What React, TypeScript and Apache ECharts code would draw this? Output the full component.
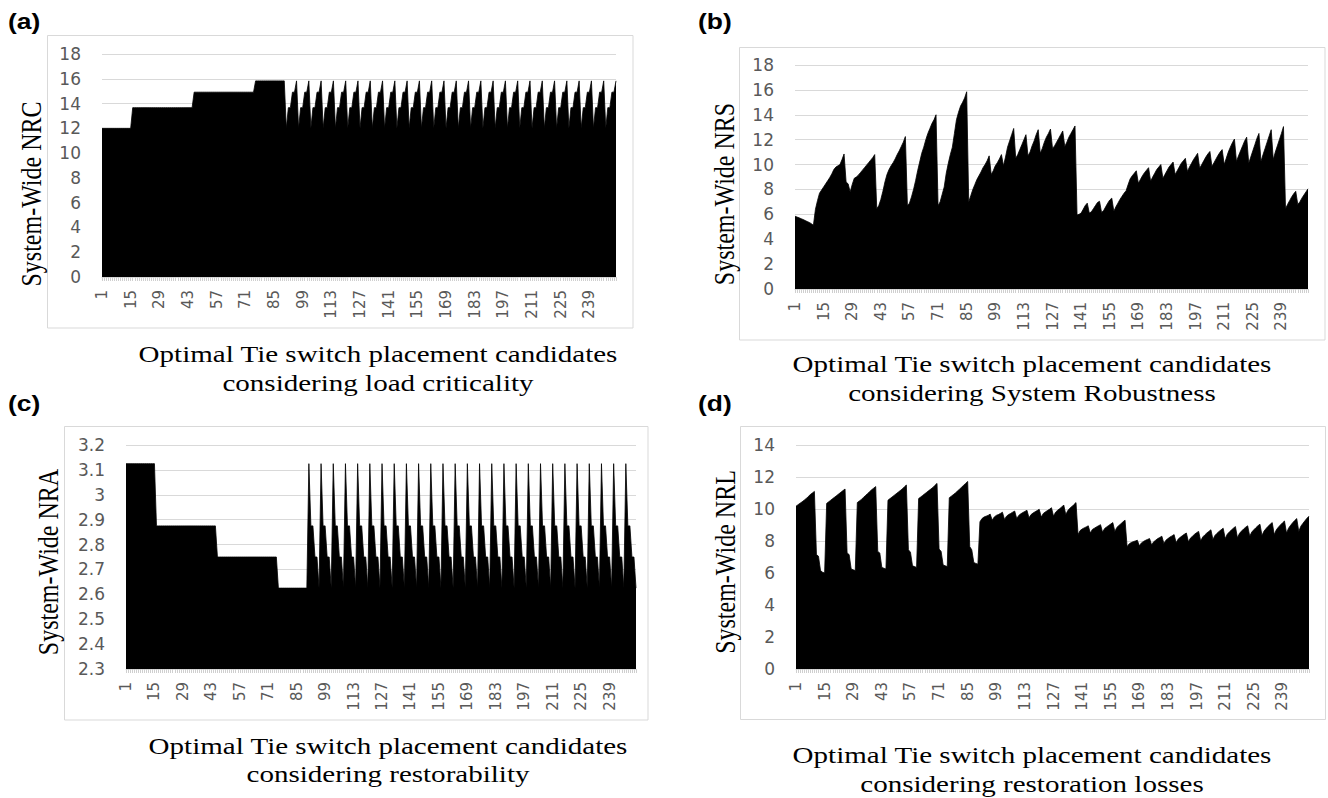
import { useEffect, useRef } from "react";
import * as echarts from "echarts";

// (a) System-Wide NRC
const NRC = [
  12, 12, 12, 12, 12, 12, 12, 12, 12, 12, 12, 12, 12, 12, 12,
  13.67, 13.67, 13.67, 13.67, 13.67, 13.67, 13.67, 13.67, 13.67, 13.67, 13.67, 13.67, 13.67, 13.67, 13.67,
  13.67, 13.67, 13.67, 13.67, 13.67, 13.67, 13.67, 13.67, 13.67, 13.67, 13.67, 13.67, 13.67, 13.67, 13.67,
  14.92, 14.92, 14.92, 14.92, 14.92, 14.92, 14.92, 14.92, 14.92, 14.92, 14.92, 14.92, 14.92, 14.92, 14.92,
  14.92, 14.92, 14.92, 14.92, 14.92, 14.92, 14.92, 14.92, 14.92, 14.92, 14.92, 14.92, 14.92, 14.92, 14.92,
  15.83, 15.83, 15.83, 15.83, 15.83, 15.83, 15.83, 15.83, 15.83, 15.83, 15.83, 15.83, 15.83, 15.83, 15.83,
  12, 13.67, 13.67, 14.92, 14.92, 15.83,
  12, 13.67, 13.67, 14.92, 14.92, 15.83,
  12, 13.67, 13.67, 14.92, 14.92, 15.83,
  12, 13.67, 13.67, 14.92, 14.92, 15.83,
  12, 13.67, 13.67, 14.92, 14.92, 15.83,
  12, 13.67, 13.67, 14.92, 14.92, 15.83,
  12, 13.67, 13.67, 14.92, 14.92, 15.83,
  12, 13.67, 13.67, 14.92, 14.92, 15.83,
  12, 13.67, 13.67, 14.92, 14.92, 15.83,
  12, 13.67, 13.67, 14.92, 14.92, 15.83,
  12, 13.67, 13.67, 14.92, 14.92, 15.83,
  12, 13.67, 13.67, 14.92, 14.92, 15.83,
  12, 13.67, 13.67, 14.92, 14.92, 15.83,
  12, 13.67, 13.67, 14.92, 14.92, 15.83,
  12, 13.67, 13.67, 14.92, 14.92, 15.83,
  12, 13.67, 13.67, 14.92, 14.92, 15.83,
  12, 13.67, 13.67, 14.92, 14.92, 15.83,
  12, 13.67, 13.67, 14.92, 14.92, 15.83,
  12, 13.67, 13.67, 14.92, 14.92, 15.83,
  12, 13.67, 13.67, 14.92, 14.92, 15.83,
  12, 13.67, 13.67, 14.92, 14.92, 15.83,
  12, 13.67, 13.67, 14.92, 14.92, 15.83,
  12, 13.67, 13.67, 14.92, 14.92, 15.83,
  12, 13.67, 13.67, 14.92, 14.92, 15.83,
  12, 13.67, 13.67, 14.92, 14.92, 15.83,
  12, 13.67, 13.67, 14.92, 14.92, 15.83,
  12, 13.67, 13.67, 14.92, 14.92, 15.83,
];

// (b) System-Wide NRS
const NRS = [
  5.85, 5.78, 5.72, 5.65, 5.58, 5.5, 5.42, 5.35, 5.25, 5.12,
  6.4, 7.1, 7.7, 7.95, 8.2,
  8.45, 8.7, 8.95, 9.25, 9.6, 9.8, 9.9, 10.0, 10.4, 10.85,
  8.6, 8.45, 7.8, 8.4, 8.9,
  9.0, 9.15, 9.35, 9.55, 9.75, 9.95, 10.15, 10.35, 10.55, 10.8,
  6.45, 6.7, 7.2, 7.85, 8.6,
  9.2, 9.6, 9.9, 10.15, 10.45, 10.8, 11.1, 11.45, 11.8, 12.25,
  6.7, 6.9, 7.4, 8.0, 8.7,
  9.5, 10.2, 10.9, 11.4, 12.0, 12.5, 12.9, 13.3, 13.6, 14.0,
  6.7, 7.0, 7.6, 8.2, 9.3,
  10.1, 10.8, 11.4, 12.5, 13.6, 14.2, 14.7, 15.0, 15.35, 15.85,
  7.0, 7.5, 8.0, 8.4, 8.8,
  9.1, 9.4, 9.75, 10.0, 10.3, 10.7,
  9.2, 9.5, 9.9, 10.15, 10.45, 10.8,
  9.9, 10.6, 11.4, 11.9, 12.4, 12.9,
  10.5, 10.8, 11.2, 11.6, 12.0, 12.4,
  10.7, 11.0, 11.5, 11.9, 12.4, 12.8,
  10.9, 11.3, 11.8, 12.2, 12.5, 12.85,
  11.3, 11.5, 11.8, 12.1, 12.4, 12.7,
  11.45, 11.8, 12.2, 12.5, 12.8, 13.1,
  5.95, 6.0, 6.1, 6.4, 6.7, 6.9,
  6.1, 6.2, 6.45, 6.7, 6.95, 7.05,
  6.15, 6.3, 6.6, 6.9, 7.15, 7.3,
  6.25, 6.6, 6.9, 7.2, 7.45, 7.7,
  7.9, 8.4, 8.85, 9.1, 9.3, 9.5,
  8.5, 8.8, 9.1, 9.35, 9.55, 9.75,
  8.65, 9.0, 9.3, 9.6, 9.8, 10.0,
  8.9, 9.2, 9.5, 9.8, 10.0, 10.2,
  9.2, 9.5, 9.8, 10.1, 10.3, 10.5,
  9.45, 9.8, 10.1, 10.4, 10.65, 10.9,
  9.7, 10.0, 10.3, 10.6, 10.85, 11.05,
  9.85, 10.15, 10.45, 10.75, 11.0, 11.2,
  10.0, 10.5, 11.0, 11.4, 11.75, 12.05,
  10.25, 10.7, 11.1, 11.5, 11.9, 12.2,
  10.1, 10.6, 11.1, 11.6, 12.1, 12.5,
  10.25, 10.8, 11.3, 11.8, 12.3, 12.8,
  10.4, 11.0, 11.5, 12.0, 12.5, 13.05,
  6.45, 6.8, 7.1, 7.4, 7.65, 7.85,
  6.8, 7.0, 7.3, 7.55, 7.8, 8.05,
];

// (c) System-Wide NRA
const NRA = [
  3.125, 3.125, 3.125, 3.125, 3.125, 3.125, 3.125, 3.125, 3.125, 3.125, 3.125, 3.125, 3.125, 3.125, 3.125,
  2.875, 2.875, 2.875, 2.875, 2.875, 2.875, 2.875, 2.875, 2.875, 2.875, 2.875, 2.875, 2.875, 2.875, 2.875,
  2.875, 2.875, 2.875, 2.875, 2.875, 2.875, 2.875, 2.875, 2.875, 2.875, 2.875, 2.875, 2.875, 2.875, 2.875,
  2.75, 2.75, 2.75, 2.75, 2.75, 2.75, 2.75, 2.75, 2.75, 2.75, 2.75, 2.75, 2.75, 2.75, 2.75,
  2.75, 2.75, 2.75, 2.75, 2.75, 2.75, 2.75, 2.75, 2.75, 2.75, 2.75, 2.75, 2.75, 2.75, 2.75,
  2.625, 2.625, 2.625, 2.625, 2.625, 2.625, 2.625, 2.625, 2.625, 2.625, 2.625, 2.625, 2.625, 2.625, 2.625,
  3.125, 2.875, 2.875, 2.75, 2.75, 2.625,
  3.125, 2.875, 2.875, 2.75, 2.75, 2.625,
  3.125, 2.875, 2.875, 2.75, 2.75, 2.625,
  3.125, 2.875, 2.875, 2.75, 2.75, 2.625,
  3.125, 2.875, 2.875, 2.75, 2.75, 2.625,
  3.125, 2.875, 2.875, 2.75, 2.75, 2.625,
  3.125, 2.875, 2.875, 2.75, 2.75, 2.625,
  3.125, 2.875, 2.875, 2.75, 2.75, 2.625,
  3.125, 2.875, 2.875, 2.75, 2.75, 2.625,
  3.125, 2.875, 2.875, 2.75, 2.75, 2.625,
  3.125, 2.875, 2.875, 2.75, 2.75, 2.625,
  3.125, 2.875, 2.875, 2.75, 2.75, 2.625,
  3.125, 2.875, 2.875, 2.75, 2.75, 2.625,
  3.125, 2.875, 2.875, 2.75, 2.75, 2.625,
  3.125, 2.875, 2.875, 2.75, 2.75, 2.625,
  3.125, 2.875, 2.875, 2.75, 2.75, 2.625,
  3.125, 2.875, 2.875, 2.75, 2.75, 2.625,
  3.125, 2.875, 2.875, 2.75, 2.75, 2.625,
  3.125, 2.875, 2.875, 2.75, 2.75, 2.625,
  3.125, 2.875, 2.875, 2.75, 2.75, 2.625,
  3.125, 2.875, 2.875, 2.75, 2.75, 2.625,
  3.125, 2.875, 2.875, 2.75, 2.75, 2.625,
  3.125, 2.875, 2.875, 2.75, 2.75, 2.625,
  3.125, 2.875, 2.875, 2.75, 2.75, 2.625,
  3.125, 2.875, 2.875, 2.75, 2.75, 2.625,
  3.125, 2.875, 2.875, 2.75, 2.75, 2.625,
  3.125, 2.875, 2.875, 2.75, 2.75, 2.625,
];

// (d) System-Wide NRL
const NRL = [
  10.17, 10.27, 10.36, 10.45, 10.55, 10.65, 10.78, 10.9, 11.0, 11.1,
  7.15, 7.05, 6.15, 6.05, 6.0,
  10.35, 10.45, 10.55, 10.65, 10.75, 10.85, 10.95, 11.05, 11.15, 11.25,
  7.25, 7.15, 6.25, 6.2, 6.15,
  10.4, 10.5, 10.6, 10.72, 10.84, 10.96, 11.08, 11.2, 11.3, 11.4,
  7.35, 7.25, 6.35, 6.3, 6.25,
  10.55, 10.65, 10.75, 10.85, 10.95, 11.05, 11.15, 11.25, 11.38, 11.5,
  7.45, 7.3, 6.45, 6.4, 6.35,
  10.65, 10.75, 10.85, 10.95, 11.05, 11.15, 11.25, 11.35, 11.48, 11.6,
  7.5, 7.35, 6.5, 6.45, 6.4,
  10.7, 10.8, 10.9, 11.0, 11.12, 11.24, 11.36, 11.48, 11.6, 11.72,
  7.65, 7.45, 6.65, 6.6, 6.55,
  9.2, 9.4, 9.5, 9.55, 9.6, 9.68,
  9.3, 9.5, 9.6, 9.65, 9.72, 9.8,
  9.35, 9.55, 9.65, 9.72, 9.8, 9.87,
  9.4, 9.6, 9.7, 9.78, 9.85, 9.92,
  9.45, 9.65, 9.75, 9.83, 9.9, 9.98,
  9.5, 9.72, 9.82, 9.9, 9.98, 10.08,
  9.55, 9.8, 9.92, 10.02, 10.12, 10.25,
  9.65, 9.9, 10.05, 10.15, 10.28, 10.4,
  8.4, 8.65, 8.75, 8.82, 8.88, 8.95,
  8.5, 8.72, 8.8, 8.88, 8.95, 9.02,
  8.55, 8.78, 8.88, 8.97, 9.06, 9.15,
  8.6, 8.85, 8.97, 9.08, 9.2, 9.3,
  7.65, 7.82, 7.9, 7.96, 8.0, 8.05,
  7.7, 7.88, 7.97, 8.04, 8.1, 8.15,
  7.75, 7.95, 8.05, 8.15, 8.22, 8.3,
  7.85, 8.05, 8.15, 8.25, 8.32, 8.4,
  7.9, 8.12, 8.23, 8.33, 8.42, 8.5,
  7.95, 8.18, 8.3, 8.42, 8.52, 8.6,
  8.0, 8.25, 8.38, 8.5, 8.6, 8.7,
  8.1, 8.35, 8.48, 8.6, 8.7, 8.8,
  8.15, 8.42, 8.56, 8.68, 8.8, 8.9,
  8.2, 8.48, 8.62, 8.75, 8.86, 8.95,
  8.3, 8.56, 8.7, 8.83, 8.95, 9.05,
  8.35, 8.62, 8.78, 8.92, 9.04, 9.15,
  8.4, 8.7, 8.86, 9.0, 9.13, 9.25,
  8.5, 8.8, 8.98, 9.14, 9.28, 9.4,
  8.6, 8.92, 9.1, 9.26, 9.42, 9.55,
];

const CATEGORIES = NRC.map((_, i) => String(i + 1));

const Y_TITLES = ["System-Wide NRC", "System-Wide NRS", "System-Wide NRA", "System-Wide NRL"];
const X_TITLE_1 = "Optimal Tie switch placement candidates";
const X_TITLES_2 = [
  "considering load criticality",
  "considering System Robustness",
  "considering restorability",
  "considering restoration losses",
];
const LETTERS = ["(a)", "(b)", "(c)", "(d)"];
const SERIES = [NRC, NRS, NRA, NRL];
const Y_MIN = [0, 0, 2.3, 0];
const Y_MAX = [18, 18, 3.2, 14];
const Y_STEP = [2, 2, 0.1, 2];

// layout (pixels)
const GRIDS = [
  { left: 102, top: 54, width: 514, height: 223 },
  { left: 795, top: 65, width: 513, height: 224 },
  { left: 126, top: 445, width: 510, height: 224 },
  { left: 796, top: 445, width: 513, height: 224 },
];
const BOXES = [
  { x: 47.5, y: 35.5, width: 585.5, height: 292.5 },
  { x: 739.5, y: 47.5, width: 585.5, height: 292.5 },
  { x: 64.5, y: 426.5, width: 583.5, height: 293.5 },
  { x: 740.5, y: 426.5, width: 585, height: 293 },
];
const LETTER_POS = [
  { x: 8, y: 21 },
  { x: 698, y: 21 },
  { x: 8, y: 403 },
  { x: 698, y: 403 },
];
const YT_POS = [
  { x: 31, y: 194 },
  { x: 724, y: 194 },
  { x: 48, y: 562 },
  { x: 725, y: 562 },
];
const XT_POS = [
  { x: 378, y1: 354, y2: 383 },
  { x: 1032, y1: 364, y2: 393 },
  { x: 388, y1: 746, y2: 774 },
  { x: 1032, y1: 755, y2: 784 },
];

const SERIF = '"Liberation Serif", "Times New Roman", serif';

function buildOption() {
  const grid = GRIDS.map((g) => ({ ...g, containLabel: false }));
  const xAxis = GRIDS.map((_, k) => ({
    type: "category",
    gridIndex: k,
    data: CATEGORIES,
    boundaryGap: false,
    axisLine: { show: true, lineStyle: { color: "#d9d9d9", width: 1 } },
    axisTick: { show: true, interval: 0, length: 4, lineStyle: { color: "#cfcfcf" } },
    axisLabel: {
      interval: 13,
      rotate: 90,
      fontFamily: "DejaVu Sans",
      fontSize: 15,
      color: "#595959",
      margin: 13,
    },
    splitLine: { show: false },
  }));
  const yAxis = GRIDS.map((_, k) => ({
    type: "value",
    gridIndex: k,
    min: Y_MIN[k],
    max: Y_MAX[k],
    interval: Y_STEP[k],
    axisLine: { show: false },
    axisTick: { show: false },
    axisLabel: {
      fontFamily: "DejaVu Sans",
      fontSize: 17,
      color: "#595959",
      margin: 21,
      formatter: (v: number) => String(Math.round(v * 10) / 10),
    },
    splitLine: { show: true, lineStyle: { color: "#d9d9d9", width: 1 } },
  }));
  const series = SERIES.map((d, k) => ({
    type: "line",
    xAxisIndex: k,
    yAxisIndex: k,
    data: d,
    symbol: "none",
    showSymbol: false,
    silent: true,
    lineStyle: { color: "#000", width: 0.8 },
    areaStyle: { color: "#000", opacity: 1, origin: "start" },
  }));

  const graphic: any[] = [];
  BOXES.forEach((b) => {
    graphic.push({
      type: "rect",
      silent: true,
      shape: { ...b },
      style: { fill: "none", stroke: "#d9d9d9", lineWidth: 1 },
    });
  });
  LETTERS.forEach((t, k) => {
    graphic.push({
      type: "text",
      x: LETTER_POS[k].x,
      y: LETTER_POS[k].y,
      scaleX: 1.2,
      silent: true,
      style: {
        text: t,
        font: 'bold 22px "Liberation Sans", Arial, sans-serif',
        fill: "#000",
        textAlign: "left",
        textVerticalAlign: "middle",
      },
    });
  });
  Y_TITLES.forEach((t, k) => {
    graphic.push({
      type: "text",
      x: YT_POS[k].x,
      y: YT_POS[k].y,
      rotation: Math.PI / 2,
      scaleY: 1.2,
      silent: true,
      style: {
        text: t,
        font: `24px ${SERIF}`,
        fill: "#000",
        textAlign: "center",
        textVerticalAlign: "middle",
      },
    });
  });
  X_TITLES_2.forEach((t, k) => {
    graphic.push({
      type: "text",
      x: XT_POS[k].x,
      y: XT_POS[k].y1,
      scaleX: 1.21,
      silent: true,
      style: {
        text: X_TITLE_1,
        font: `24px ${SERIF}`,
        fill: "#000",
        textAlign: "center",
        textVerticalAlign: "middle",
      },
    });
    graphic.push({
      type: "text",
      x: XT_POS[k].x,
      y: XT_POS[k].y2,
      scaleX: 1.21,
      silent: true,
      style: {
        text: t,
        font: `24px ${SERIF}`,
        fill: "#000",
        textAlign: "center",
        textVerticalAlign: "middle",
      },
    });
  });

  return {
    animation: false,
    backgroundColor: "#ffffff",
    grid,
    xAxis,
    yAxis,
    series,
    graphic,
  };
}

export default function App() {
  const ref = useRef<HTMLDivElement>(null);
  useEffect(() => {
    if (!ref.current) return;
    const chart = echarts.init(ref.current, null, { renderer: "svg" });
    chart.setOption(buildOption() as any);
    return () => chart.dispose();
  }, []);
  return (
    <div
      ref={ref}
      style={{ position: "absolute", left: 0, top: 0, width: 1328, height: 798, background: "#fff" }}
    />
  );
}
